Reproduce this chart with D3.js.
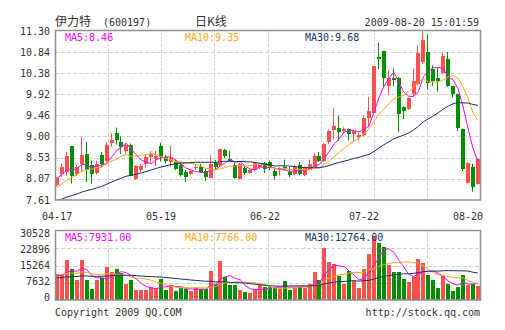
<!DOCTYPE html>
<html>
<head>
<meta charset="utf-8">
<script src="https://cdn.jsdelivr.net/npm/d3@7"></script>
<style>
  body { margin: 0; background: #fff; }
  svg { display: block; }
</style>
</head>
<body>
<svg id="chart" width="505" height="330"></svg>
<script>
// ---- header text ----
const stockName = "伊力特";
const stockCode = "(600197)";
const chartTitle = "日K线";
const stamp = "2009-08-20 15:01:59";
const copyrightLeft = "Copyright 2009 QQ.COM";
const copyrightRight = "http://stock.qq.com";

// ---- daily bars 2009-04-17 .. 2009-08-20 ----
const open = [7.93,8.17,8.22,8.78,8.18,8.40,8.62,8.37,8.20,8.60,8.47,8.85,9.08,8.88,8.68,8.80,8.07,8.27,8.40,8.55,8.50,8.78,8.55,8.44,8.44,8.38,8.22,8.17,8.30,8.33,8.24,8.10,8.42,8.37,8.71,8.50,8.38,8.07,8.31,8.20,8.26,8.32,8.42,8.44,8.24,8.26,8.34,8.23,8.18,8.38,8.15,8.27,8.34,8.58,8.46,8.88,9.13,9.19,9.12,9.15,9.06,8.98,9.02,9.39,9.52,10.73,10.87,10.10,10.28,10.28,9.63,9.60,9.92,10.15,10.62,10.85,10.48,10.27,10.39,10.68,10.09,9.92,9.17,7.99,8.34,7.97];
const high = [8.11,8.41,8.66,8.79,8.37,8.98,8.88,8.47,8.47,8.66,8.88,9.07,9.19,9.00,8.86,8.84,8.37,8.40,8.60,8.68,8.68,8.86,8.60,8.80,8.49,8.44,8.27,8.28,8.38,8.40,8.30,8.58,8.48,8.73,8.73,8.69,8.42,8.42,8.35,8.29,8.44,8.41,8.44,8.47,8.29,8.33,8.49,8.33,8.37,8.44,8.34,8.49,8.64,8.66,8.85,9.15,9.62,9.44,9.20,9.17,9.15,9.07,9.44,9.86,10.54,11.04,10.87,10.45,10.48,10.30,9.66,9.85,10.48,10.98,11.30,11.22,10.55,10.50,10.82,10.84,10.10,9.93,9.17,8.43,8.40,8.52];
const low = [7.90,8.11,8.14,7.97,8.13,8.22,8.00,7.97,8.17,8.32,8.43,8.77,8.82,8.62,8.62,8.13,8.05,8.22,8.30,8.40,8.35,8.45,8.42,8.34,8.26,8.12,8.00,8.15,8.26,8.20,8.02,8.08,8.26,8.34,8.53,8.44,8.07,8.06,8.16,8.18,8.24,8.29,8.20,8.26,8.06,8.15,8.26,8.11,8.15,8.15,8.13,8.26,8.33,8.44,8.44,8.84,8.95,8.90,9.07,8.91,8.88,8.91,9.00,9.20,9.50,10.47,10.08,9.90,10.09,9.10,9.38,9.58,9.88,10.12,10.58,10.02,10.10,9.98,10.37,10.08,9.85,9.12,8.24,7.97,7.79,7.95];
const close = [8.09,8.33,8.56,8.14,8.33,8.60,8.27,8.18,8.40,8.40,8.80,8.93,8.93,8.76,8.80,8.14,8.35,8.35,8.55,8.62,8.58,8.55,8.46,8.52,8.29,8.16,8.12,8.24,8.34,8.22,8.11,8.40,8.33,8.72,8.56,8.47,8.09,8.40,8.21,8.26,8.42,8.38,8.29,8.31,8.13,8.30,8.29,8.15,8.34,8.18,8.33,8.39,8.56,8.47,8.84,9.12,9.22,9.09,9.17,9.06,9.12,9.02,9.39,9.55,10.53,10.69,10.28,10.28,10.24,9.48,9.56,9.84,10.20,10.82,11.10,10.17,10.20,10.21,10.75,10.10,9.92,9.19,8.28,8.42,7.90,8.51];
const volume = [12425,12107,19116,14815,9558,19116,9240,5257,9240,10195,15768,13381,14815,12904,7646,9240,4939,4778,4780,6053,5574,9880,4778,7167,4300,5574,5097,4300,5892,5097,5097,13537,7644,18314,10778,7167,7167,4778,3981,3504,5200,7167,6051,6051,5574,5097,8759,4778,6370,6051,5574,7644,13059,9236,24687,18060,17200,11500,7644,13800,8759,5892,14811,21800,30528,27091,25180,16723,13388,13059,10033,8284,10832,19589,17518,11629,9236,5574,11151,7644,4400,6370,11945,7300,7600,6440];

// sessions before the window, needed for the moving averages
const priorClose = [7.20,7.25,7.18,7.30,7.35,7.28,7.40,7.45,7.38,7.42,7.50,7.55,7.48,7.60,7.58,7.52,7.62,7.65,7.58,7.60,7.62,7.70,7.65,7.72,7.78,7.95,8.05,8.12,8.24];
const priorVolume = [8200,9500,11800,7600,10200,9300,12400,8800,9900,10600,8400,11200,9700,8900,10800,9100,10300,9600,8700,9900,11800,13900,12200,10900,13600,10800,12300,11400,10600];

// ---- axis labels ----
const priceTicks = ["11.30","10.84","10.38","9.92","9.46","9.00","8.53","8.07","7.61"];
const volumeTicks = [30528, 22896, 15264, 7632, 0];
const dateLabels = ["04-17","05-19","06-22","07-22","08-20"];
const dateIndex = [0, 21, 42, 62, 83];
const maPeriods = [5, 10, 30];
const maColors = ["#ff00ff", "#ffa31a", "#0f3366"];

// ---- layout ----
const L = 55, R = 480;
const mainTop = 31, mainBottom = 200;
const volTop = 231, volBottom = 300;
const gridCols = 8;

const svg = d3.select("#chart");
const n = close.length;
const mono = "'DejaVu Sans Mono', 'Liberation Mono', monospace";
const cjk = "'Noto Sans CJK SC', 'Noto Sans', sans-serif";

const x = d3.scaleBand().domain(d3.range(n)).range([L, R]).paddingInner(0.19).paddingOuter(0.02);
const bx = i => Math.round(x(i));
const cx = i => x(i) + x.bandwidth() / 2;
const bw = Math.round(x.bandwidth());

const y = d3.scaleLinear().domain([7.61, 11.30]).range([mainBottom, mainTop]);
const yv = d3.scaleLinear().domain([0, d3.max(volume)]).range([volBottom, 235.5]);
const yvTick = d3.scaleLinear().domain([0, 30528]).range([volBottom, volTop]);
const yvLabel = d3.scaleLinear().domain([0, 30528]).range([297, 233]);
const gx = d3.scaleLinear().domain([0, gridCols]).range([L, R]);

function movingAverage(values, prior, p) {
  const all = prior.concat(values);
  const off = prior.length;
  return values.map((_, i) => d3.mean(all.slice(off + i - p + 1, off + i + 1)));
}
const priceMA = maPeriods.map(p => movingAverage(close, priorClose, p));
const volMA = maPeriods.map(p => movingAverage(volume, priorVolume, p));

const up = i => close[i] >= open[i];
const RED = "#ff5050", GREEN = "#008f00";

// clip regions
const defs = svg.append("defs");
defs.append("clipPath").attr("id", "clipMain").append("rect")
  .attr("x", L).attr("y", mainTop).attr("width", R - L).attr("height", mainBottom - mainTop);
defs.append("clipPath").attr("id", "clipVol").append("rect")
  .attr("x", L).attr("y", volTop).attr("width", R - L).attr("height", volBottom - volTop);

// ---- grid ----
const grid = svg.append("g").attr("stroke", "#d4d4d4").attr("stroke-width", 1).attr("stroke-dasharray", "4,2");
d3.range(1, gridCols).forEach(k => {
  const gxk = Math.round(gx(k)) + 0.5;
  grid.append("line").attr("x1", gxk).attr("x2", gxk).attr("y1", mainTop).attr("y2", mainBottom);
  grid.append("line").attr("x1", gxk).attr("x2", gxk).attr("y1", volTop).attr("y2", volBottom);
});
priceTicks.slice(1, -1).forEach(t => {
  const yy = Math.round(y(+t)) + 0.5;
  grid.append("line").attr("x1", L).attr("x2", R).attr("y1", yy).attr("y2", yy);
});
volumeTicks.slice(1, -1).forEach(t => {
  const yy = Math.round(yvTick(t)) + 0.5;
  grid.append("line").attr("x1", L).attr("x2", R).attr("y1", yy).attr("y2", yy);
});

// ---- candles ----
const candles = svg.append("g").attr("clip-path", "url(#clipMain)");
d3.range(n).forEach(i => {
  const col = up(i) ? RED : GREEN;
  const wx = bx(i) + 1.5;
  candles.append("line").attr("x1", wx).attr("x2", wx)
    .attr("y1", y(high[i])).attr("y2", y(low[i]))
    .attr("stroke", col).attr("stroke-width", 1);
  const top = Math.round(y(Math.max(open[i], close[i])));
  const bot = Math.round(y(Math.min(open[i], close[i])));
  candles.append("rect").attr("x", bx(i)).attr("y", top)
    .attr("width", bw).attr("height", Math.max(1, bot - top)).attr("fill", col);
});

// ---- price moving averages ----
const maLines = svg.append("g").attr("clip-path", "url(#clipMain)").attr("fill", "none").attr("stroke-width", 1);
priceMA.forEach((m, k) => {
  maLines.append("path")
    .attr("d", d3.line().x((d, i) => cx(i)).y(d => y(d))(m))
    .attr("stroke", maColors[k]);
});

// ---- volume bars ----
const vol = svg.append("g").attr("clip-path", "url(#clipVol)");
d3.range(n).forEach(i => {
  const top = Math.round(yv(volume[i]));
  vol.append("rect").attr("x", bx(i)).attr("y", top)
    .attr("width", bw).attr("height", volBottom - top)
    .attr("fill", up(i) ? RED : GREEN);
});
const vLines = svg.append("g").attr("clip-path", "url(#clipVol)").attr("fill", "none").attr("stroke-width", 1);
volMA.forEach((m, k) => {
  vLines.append("path")
    .attr("d", d3.line().x((d, i) => cx(i)).y(d => yv(d))(m))
    .attr("stroke", maColors[k]);
});

// ---- frames ----
svg.append("rect").attr("x", L + 0.5).attr("y", mainTop - 0.5).attr("width", R - L).attr("height", mainBottom - mainTop + 0.5)
  .attr("fill", "none").attr("stroke", "#8f8f8f").attr("stroke-width", 1.5);
svg.append("rect").attr("x", L + 0.5).attr("y", volTop - 0.5).attr("width", R - L).attr("height", volBottom - volTop + 0.5)
  .attr("fill", "none").attr("stroke", "#8f8f8f").attr("stroke-width", 1.5);

// ---- axis labels ----
const txt = svg.append("g").attr("font-family", mono).attr("font-size", "10px").attr("fill", "#333");
priceTicks.forEach(t => {
  txt.append("text").attr("x", 50).attr("y", y(+t)).attr("dy", "0.35em")
    .attr("text-anchor", "end").text(t);
});
volumeTicks.forEach(t => {
  txt.append("text").attr("x", 50).attr("y", yvLabel(t)).attr("dy", "0.35em")
    .attr("text-anchor", "end").text(t);
});
dateLabels.forEach((t, k) => {
  txt.append("text").attr("x", cx(dateIndex[k])).attr("y", 220)
    .attr("text-anchor", "middle").text(t);
});

// ---- legends ----
const legendX = [65, 185, 305];
maPeriods.forEach((p, k) => {
  txt.append("text").attr("x", legendX[k]).attr("y", 40.5).attr("fill", maColors[k])
    .text(`MA${p}:${priceMA[k][n - 1].toFixed(2)}`);
  txt.append("text").attr("x", legendX[k]).attr("y", 240.5).attr("fill", maColors[k])
    .text(`MA${p}:${volMA[k][n - 1].toFixed(2)}`);
});

// ---- header / footer ----
svg.append("text").attr("x", 55).attr("y", 26).attr("font-family", cjk).attr("font-size", "12px").attr("fill", "#333").text(stockName);
txt.append("text").attr("x", 103).attr("y", 25.5).text(stockCode);
svg.append("text").attr("x", 195).attr("y", 26).attr("font-family", cjk).attr("font-size", "12px").attr("fill", "#333").text(chartTitle);
txt.append("text").attr("x", 479).attr("y", 25.5).attr("text-anchor", "end").text(stamp);
txt.append("text").attr("x", 55).attr("y", 316).text(copyrightLeft);
txt.append("text").attr("x", 480).attr("y", 316).attr("text-anchor", "end").text(copyrightRight);
</script>
</body>
</html>
